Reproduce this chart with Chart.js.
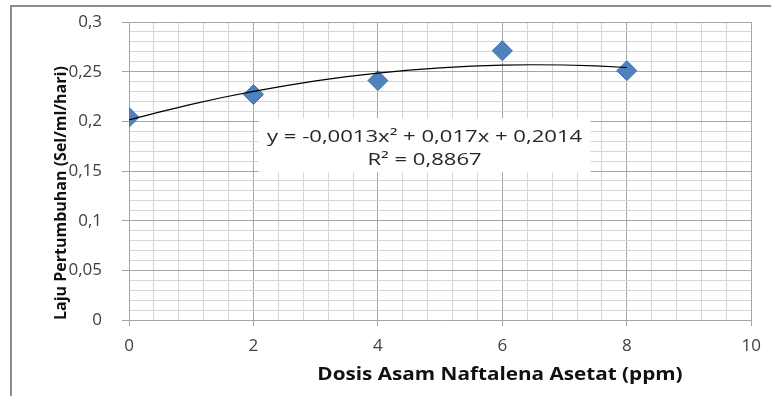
<!DOCTYPE html>
<html>
<head>
<meta charset="utf-8">
<script src="https://cdn.jsdelivr.net/npm/chart.js@4"></script>
<style>
  html, body { margin: 0; padding: 0; background: #fff; }
  #wrap { width: 771px; height: 396px; }
</style>
</head>
<body>
<div id="wrap"><canvas id="myChart" width="771" height="396"></canvas></div>
<script>
// dosis NAA (ppm) dan laju pertumbuhan
const doses = [0, 2, 4, 6, 8];
const rates = [0.204, 0.227, 0.241, 0.271, 0.251];

// koefisien trendline polinomial (c0 + c1*x + c2*x^2), dari persamaan di grafik
const trendCoef = [0.2014, 0.017, -0.0013];
const trendX = [0, 0.5, 1, 1.5, 2, 2.5, 3, 3.5, 4, 4.5, 5, 5.5, 6, 6.5, 7, 7.5, 8];
const eqLines = ['y = -0,0013x² + 0,017x + 0,2014', 'R² = 0,8867'];

const xTitle = 'Dosis Asam Naftalena Asetat (ppm)';
const yTitle = 'Laju Pertumbuhan (Sel/ml/hari)';

const trendData = trendX.map(x => ({ x: x, y: trendCoef[0] + trendCoef[1] * x + trendCoef[2] * x * x }));
const pointData = doses.map((d, i) => ({ x: d, y: rates[i] }));

const isMajor = (v, step) => Math.abs(v / step - Math.round(v / step)) < 1e-6;

const frame = {
    id: 'frame',
    beforeDraw(chart) {
        const ctx = chart.ctx;
        ctx.save();
        ctx.fillStyle = '#fff';
        ctx.fillRect(0, 0, chart.width, chart.height);
        ctx.strokeStyle = '#8c8c8c';
        ctx.lineWidth = 2;
        ctx.beginPath();
        ctx.moveTo(11, chart.height);
        ctx.lineTo(11, 6);
        ctx.lineTo(chart.width, 6);
        ctx.stroke();
        ctx.restore();
    }
};

// kotak persamaan trendline + judul sumbu x
const eqLabel = {
    id: 'eqLabel',
    afterDatasetsDraw(chart) {
        const ctx = chart.ctx;
        const cx = chart.scales.x.getPixelForValue(4.75);
        const cy = chart.scales.y.getPixelForValue(0.176);
        ctx.save();
        ctx.fillStyle = '#fff';
        ctx.fillRect(cx - 166, cy - 27, 332, 54);
        ctx.fillStyle = '#262626';
        ctx.font = '16px "Open Sans"';
        ctx.textAlign = 'center';
        ctx.textBaseline = 'middle';
        eqLines.forEach((t, i) => {
            ctx.save();
            ctx.translate(cx, cy - 8 + i * 23);
            ctx.scale(1.38, 1);
            ctx.fillText(t, 0, 0);
            ctx.restore();
        });
        ctx.restore();
    },
    afterDraw(chart) {
        const ctx = chart.ctx;
        ctx.save();
        ctx.fillStyle = '#111';
        ctx.font = 'bold 18px "Open Sans"';
        ctx.textAlign = 'center';
        ctx.textBaseline = 'middle';
        ctx.translate(500, 375);
        ctx.scale(1.15, 1);
        ctx.fillText(xTitle, 0, 0);
        ctx.restore();
    }
};

const ctx = document.getElementById('myChart').getContext('2d');
window.myChart = new Chart(ctx, {
    type: 'scatter',
    data: {
        datasets: [{
            label: 'Trend',
            type: 'line',
            data: trendData,
            borderColor: '#000',
            borderWidth: 1.2,
            pointRadius: 0,
            fill: false,
            order: 0
        }, {
            label: 'Laju',
            data: pointData,
            pointStyle: 'rectRot',
            pointRadius: 10,
            backgroundColor: '#4f81bd',
            borderColor: '#3f6fa8',
            borderWidth: 1,
            order: 1
        }]
    },
    options: {
        responsive: false,
        animation: false,
        layout: { padding: { top: 22, right: 16, left: 0, bottom: 0 } },
        plugins: {
            legend: { display: false },
            tooltip: { enabled: false }
        },
        scales: {
            x: {
                type: 'linear',
                min: 0,
                max: 10,
                afterFit: s => { s.height = 76; },
                ticks: {
                    stepSize: 0.4,
                    autoSkip: false,
                    maxRotation: 0,
                    padding: 10,
                    color: '#404040',
                    font: { family: 'Open Sans', size: 17 },
                    callback: v => isMajor(v, 2) ? String(Math.round(v)) : ''
                },
                grid: {
                    tickLength: 6,
                    color: c => isMajor(c.tick.value, 2) ? '#a6a6a6' : '#d6d6d6',
                    tickColor: c => isMajor(c.tick.value, 2) ? '#a6a6a6' : 'rgba(0,0,0,0)'
                },
                border: { color: '#a6a6a6' },
                title: { display: false }
            },
            y: {
                type: 'linear',
                min: 0,
                max: 0.3,
                afterFit: s => { s.width = 129; s.paddingTop = 0; s.paddingBottom = 0; },
                ticks: {
                    stepSize: 0.01,
                    autoSkip: false,
                    padding: 20,
                    color: '#404040',
                    font: { family: 'Open Sans', size: 17 },
                    callback: v => isMajor(v, 0.05) ? String(Math.round(v * 100) / 100).replace('.', ',') : ''
                },
                grid: {
                    tickLength: 7,
                    color: c => isMajor(c.tick.value, 0.05) ? '#a6a6a6' : '#d6d6d6',
                    tickColor: c => isMajor(c.tick.value, 0.05) ? '#a6a6a6' : 'rgba(0,0,0,0)'
                },
                border: { color: '#a6a6a6' },
                title: {
                    display: true,
                    text: yTitle,
                    align: 'start',
                    color: '#111',
                    font: { family: 'Open Sans', size: 16, weight: 'bold' },
                    padding: { top: 52, bottom: 0 }
                }
            }
        }
    },
    plugins: [frame, eqLabel]
});
</script>
</body>
</html>
